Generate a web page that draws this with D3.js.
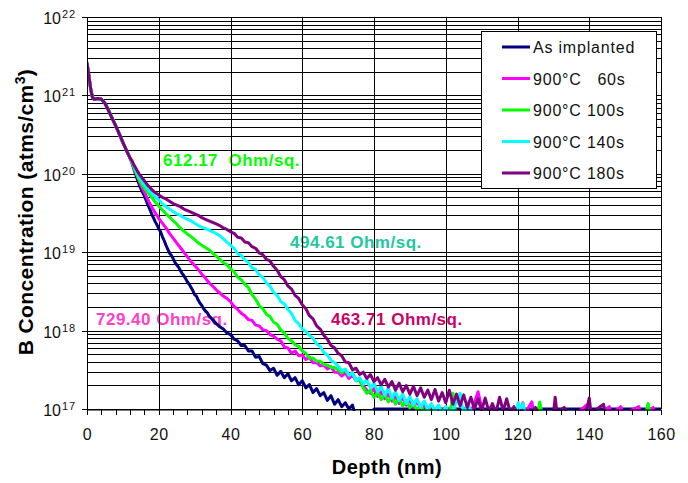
<!DOCTYPE html>
<html><head><meta charset="utf-8">
<script src="https://cdn.jsdelivr.net/npm/d3@7"></script>
<style>
html,body{margin:0;padding:0;background:#fff;}
svg{display:block;font-family:"Liberation Sans",Arial,sans-serif;}
</style></head><body>
<svg id="chart" width="688" height="483"></svg>
<script>
// ---------- DATA (depth in nm, value = log10 of B concentration in atms/cm3) ----------
const surfaceProfile = [[0,21.41],[0.5,21.26],[1,21.09],[1.5,20.98],[2,20.95],[3,20.96],[4,20.95],[5,20.90],[6,20.81],[7,20.71],[8,20.61],[9,20.51],[10,20.40],[11,20.30],[12,20.20]];

const asImplanted = [[12.5,20.14],[13,20.07],[13.5,20.00],[14,19.93],[14.5,19.87],[15,19.81],[15.5,19.76],[16,19.72],[16.5,19.66],[17,19.60],[17.5,19.55],[18,19.49],[18.5,19.44],[19,19.39],[19.5,19.35],[20,19.30],[20.5,19.26],[21,19.20],[21.5,19.15],[22,19.09],[22.5,19.04],[23,18.99],[23.5,18.96],[24,18.92],[24.5,18.87],[25,18.84],[25.5,18.81],[26,18.77],[26.5,18.73],[27,18.70],[27.5,18.66],[28,18.62],[28.5,18.59],[29,18.55],[29.5,18.51],[30,18.46],[30.5,18.44],[31,18.39],[31.5,18.35],[32,18.32],[32.5,18.28],[33,18.25],[33.5,18.23],[34,18.19],[35,18.14],[36,18.09],[37,18.05],[38,18.02],[39,17.97],[40,17.95],[41,17.89],[42,17.87],[43,17.81],[44,17.81],[45,17.74],[46,17.74],[47,17.66],[48,17.67],[49,17.58],[50,17.56],[51,17.49],[52,17.52],[53,17.43],[54,17.48],[55,17.40],[56,17.45],[57,17.36],[58,17.40],[59,17.31],[60,17.36],[61,17.27],[62,17.31],[63,17.21],[64,17.26],[65,17.17],[66,17.21],[67,17.11],[68,17.17],[69,17.06],[70,17.12],[71,17.03],[72,17.08],[73,17.00],[74,17.05],[74.5,16.97],[77,null],[80,17.0],[160,17.0]];

const anneal60 = [[12.5,20.15],[13,20.09],[13.5,20.03],[14,19.97],[14.5,19.91],[15,19.86],[15.5,19.81],[16,19.77],[16.5,19.72],[17,19.67],[17.5,19.62],[18,19.58],[18.5,19.54],[19,19.50],[19.5,19.47],[20,19.43],[21,19.37],[22,19.31],[23,19.24],[24,19.18],[25,19.12],[26,19.06],[27,19.00],[28,18.94],[29,18.88],[30,18.83],[31,18.78],[32,18.72],[33,18.67],[34,18.61],[35,18.57],[36,18.52],[37,18.48],[38,18.44],[39,18.41],[40,18.37],[41,18.31],[42,18.27],[43,18.22],[44,18.19],[45,18.14],[46,18.13],[47,18.07],[48,18.06],[49,18.01],[50,18.00],[51,17.95],[52,17.93],[53,17.89],[54,17.87],[55,17.79],[56,17.78],[57,17.71],[58,17.74],[59,17.68],[60,17.69],[61,17.63],[62,17.66],[63,17.59],[64,17.59],[65,17.55],[66,17.56],[67,17.51],[68,17.54],[69,17.47],[70,17.47],[71,17.42],[72,17.46],[73,17.39],[74,17.43],[75,17.36],[76,17.38],[77,17.30],[78,17.24],[79,17.20],[80,17.26],[81,17.16],[82,17.22],[83,17.13],[84,17.19],[85,17.10],[86,17.16],[87,17.07],[88,17.15],[89,17.05],[90,17.12],[91,17.02],[92,17.10],[93,17.00],[94,17.07],[95,16.97],[96,17.05],[97,16.96],[98,17.04],[99,16.95],[100,17.02],[101,16.95],[102,16.99],[103,16.93],[104,16.97],[105,16.92],[107,16.96],[108,17.08],[109,17.22],[110,17.02],[111,16.92],[114,16.95],[116,16.92],[121,16.93],[121.5,17.08],[122,16.94],[124,17.09],[124.5,16.93],[128,16.92],[132,16.95],[136,16.92],[139.2,17.05],[139.8,16.93],[143,16.92],[145.6,17.03],[146.2,16.93],[148.8,17.03],[149.4,16.93],[153.8,17.03],[154.4,16.93],[157.8,17.02],[158.4,16.93],[160,16.92]];

const anneal100 = [[12.5,20.15],[13,20.09],[13.5,20.03],[14,19.98],[14.5,19.93],[15,19.89],[15.5,19.85],[16,19.82],[16.5,19.79],[17,19.76],[17.5,19.73],[18,19.70],[19,19.64],[20,19.59],[21,19.54],[22,19.49],[23,19.45],[24,19.40],[25,19.36],[26,19.31],[27,19.27],[28,19.23],[29,19.20],[30,19.16],[31,19.12],[32,19.09],[33,19.06],[34,19.03],[35,18.99],[36,18.95],[37,18.91],[38,18.87],[39,18.84],[40,18.79],[41,18.75],[42,18.68],[43,18.65],[44,18.59],[45,18.55],[46,18.46],[47,18.40],[48,18.32],[49,18.28],[50,18.21],[51,18.18],[52,18.11],[53,18.08],[54,18.01],[55,17.97],[56,17.90],[57,17.87],[58,17.82],[59,17.80],[60,17.74],[61,17.71],[62,17.65],[63,17.65],[64,17.61],[65,17.61],[66,17.57],[67,17.56],[68,17.53],[69,17.53],[70,17.50],[71,17.46],[72,17.50],[73,17.43],[74,17.46],[75,17.38],[76,17.36],[77,17.27],[78,17.20],[79,17.24],[80,17.15],[81,17.21],[82,17.12],[83,17.19],[84,17.09],[85,17.16],[86,17.06],[87,17.14],[88,17.04],[89,17.11],[90,17.01],[91,17.08],[92,16.97],[93,17.05],[94,16.95],[95,17.02],[96,16.93],[97,16.99],[98,17.04],[99,16.94],[100,16.99],[101,16.93],[101.6,17.06],[102,17.20],[102.6,17.00],[103.2,16.92],[106,16.95],[110,16.92],[114,16.94],[118,16.92],[122,16.93],[125.6,16.94],[126.2,17.09],[126.8,16.94],[132,16.92],[138,16.93],[144,16.92],[150,16.93],[155.8,16.94],[156.4,17.07],[157,16.94],[160,16.92]];

const anneal140 = [[12.5,20.16],[13,20.11],[13.5,20.06],[14,20.01],[14.5,19.97],[15,19.93],[15.5,19.89],[16,19.86],[16.5,19.83],[17,19.80],[17.5,19.78],[18,19.75],[19,19.71],[20,19.67],[21,19.62],[22,19.58],[23,19.55],[24,19.52],[25,19.49],[26,19.47],[27,19.44],[28,19.42],[29,19.40],[30,19.37],[31,19.34],[32,19.32],[33,19.30],[34,19.28],[35,19.26],[36,19.24],[37,19.21],[38,19.17],[39,19.13],[40,19.09],[41,19.05],[42,18.98],[43,18.96],[44,18.90],[45,18.87],[46,18.80],[47,18.78],[48,18.71],[49,18.68],[50,18.61],[51,18.57],[52,18.49],[53,18.45],[54,18.37],[55,18.34],[56,18.27],[57,18.22],[58,18.13],[59,18.09],[60,18.02],[61,17.99],[62,17.94],[63,17.90],[64,17.83],[65,17.80],[66,17.72],[67,17.69],[68,17.62],[69,17.59],[70,17.55],[71,17.49],[72,17.51],[73,17.43],[74,17.46],[75,17.36],[76,17.40],[77,17.32],[78,17.37],[79,17.27],[80,17.33],[81,17.22],[82,17.29],[83,17.18],[84,17.26],[85,17.14],[86,17.22],[87,17.11],[88,17.19],[89,17.07],[90,17.16],[91,17.05],[92,17.13],[93,17.02],[94,17.10],[95,16.99],[96,17.07],[97,16.97],[98,17.05],[99,16.95],[100,17.03],[101,16.94],[102,17.00],[103,17.08],[104,17.20],[104.6,17.03],[105.2,16.93],[106,17.07],[107,16.98],[108,16.92],[112,16.93],[116,16.92],[119.6,16.94],[120.2,17.08],[120.8,17.00],[121.6,17.07],[122.2,16.93],[126,16.92],[130,16.94],[134,16.92],[138,16.93],[142,16.92],[150,16.93],[160,16.92]];

const anneal180 = [[12.5,20.17],[13,20.12],[13.5,20.08],[14,20.04],[14.5,20.00],[15,19.97],[15.5,19.94],[16,19.91],[16.5,19.88],[17,19.85],[17.5,19.83],[18,19.80],[19,19.76],[20,19.73],[21,19.70],[22,19.68],[23,19.65],[24,19.62],[25,19.60],[26,19.58],[27,19.55],[28,19.53],[29,19.51],[30,19.49],[31,19.47],[32,19.44],[33,19.42],[34,19.40],[35,19.38],[36,19.36],[37,19.34],[38,19.31],[39,19.29],[40,19.26],[41,19.24],[42,19.19],[43,19.18],[44,19.13],[45,19.12],[46,19.07],[47,19.05],[48,18.99],[49,18.97],[50,18.91],[51,18.89],[52,18.82],[53,18.77],[54,18.69],[55,18.65],[56,18.57],[57,18.53],[58,18.45],[59,18.41],[60,18.33],[61,18.28],[62,18.19],[63,18.15],[64,18.06],[65,18.02],[66,17.94],[67,17.89],[68,17.81],[69,17.78],[70,17.71],[71,17.68],[72,17.60],[73,17.59],[74,17.50],[75,17.52],[76,17.44],[77,17.47],[78,17.39],[79,17.44],[80,17.35],[81,17.40],[82,17.31],[83,17.38],[84,17.28],[85,17.35],[86,17.24],[87,17.33],[88,17.22],[89,17.30],[90,17.19],[91,17.29],[92,17.17],[93,17.27],[94,17.15],[95,17.24],[96,17.12],[97,17.25],[98,17.10],[99,17.21],[100,17.08],[101,17.24],[102,17.06],[103,17.19],[104,17.04],[105,17.18],[106,17.02],[107,17.15],[108,17.00],[109,17.13],[110,16.98],[111,17.14],[112,16.97],[113,17.07],[114,16.95],[115,17.15],[116,16.98],[117,17.13],[118,16.95],[119,17.03],[120,16.94],[121,16.98],[123,16.93],[125,17.02],[126,16.93],[128,16.96],[130,16.93],[130.5,17.15],[131,16.95],[133,17.02],[134,16.93],[137,16.96],[139,16.94],[140,17.14],[140.5,16.94],[143,17.03],[144,17.06],[144.5,16.93],[148,16.95],[152,16.93],[156,16.94],[160,16.93]];

const seriesNames = ["As implanted", "900\u00B0C   60s", "900\u00B0C 100s", "900\u00B0C 140s", "900\u00B0C 180s"];
const seriesColors = ["#000080", "#ff00ff", "#00ff00", "#00ffff", "#800080"];

const xTickLabels = [0, 20, 40, 60, 80, 100, 120, 140, 160];
const yDecades = [17, 18, 19, 20, 21, 22];

const sheetLabels = ["612.17  Ohm/sq.", "494.61 Ohm/sq.", "463.71 Ohm/sq.", "729.40 Ohm/sq."];
const sheetLabelColors = ["#00ff00", "#1ec8a0", "#cc0066", "#ff40c8"];
const sheetLabelAnchors = [[21.2, 20.10], [56.6, 19.05], [68.0, 18.07], [2.5, 18.07]]; // [depth, log10 conc]

// ---------- CHART ----------
const svg = d3.select("#chart");
const x = d3.scaleLinear().domain([0, 160]).range([87, 661]);
const y = d3.scaleLog().domain([1e17, 1e22]).range([409, 17]);
const yl = v => y(Math.pow(10, v));

// annotations (under gridlines, as in the reference)
svg.append("g").selectAll("text").data(sheetLabels).join("text")
  .attr("x", (d, i) => x(sheetLabelAnchors[i][0]))
  .attr("y", (d, i) => yl(sheetLabelAnchors[i][1]))
  .attr("fill", (d, i) => sheetLabelColors[i])
  .attr("font-size", 17).attr("font-weight", "bold")
  .attr("letter-spacing", "0.5px")
  .style("white-space", "pre")
  .text(d => d);

// gridlines
const hGrid = [];
yDecades.forEach(e => {
  if (e < 22) { for (let k = 1; k <= 9; k++) hGrid.push(k * Math.pow(10, e)); }
  else hGrid.push(Math.pow(10, e));
});
const grid = svg.append("g").attr("stroke", "#000").attr("stroke-width", 1).attr("shape-rendering", "crispEdges");
grid.selectAll("line.h").data(hGrid).join("line").attr("class", "h")
  .attr("x1", x(0)).attr("x2", x(160))
  .attr("y1", d => Math.round(y(d)) + 0.5).attr("y2", d => Math.round(y(d)) + 0.5);
grid.selectAll("line.v").data(xTickLabels).join("line").attr("class", "v")
  .attr("x1", d => Math.round(x(d)) + 0.5).attr("x2", d => Math.round(x(d)) + 0.5)
  .attr("y1", y(1e22)).attr("y2", y(1e17));

// curves
svg.append("clipPath").attr("id", "plotclip").append("rect")
  .attr("x", x(0)).attr("y", y(1e22)).attr("width", x(160) - x(0)).attr("height", y(1e17) - y(1e22) + 2);

const seriesData = [asImplanted, anneal60, anneal100, anneal140, anneal180].map(s => surfaceProfile.concat(s));
const line = d3.line().defined(d => d[1] !== null).x(d => x(d[0])).y(d => yl(d[1]));
svg.append("g").attr("clip-path", "url(#plotclip)")
  .selectAll("path").data(seriesData).join("path")
  .attr("d", line).attr("fill", "none")
  .attr("stroke", (d, i) => seriesColors[i]).attr("stroke-width", 3)
  .attr("stroke-linejoin", "round").attr("stroke-linecap", "round");

// x axis
const xAxis = d3.axisBottom(x).tickValues(d3.range(0, 161, 4)).tickSize(5).tickPadding(14)
  .tickFormat(d => xTickLabels.includes(d) ? d : "");
const gx = svg.append("g").attr("transform", `translate(0,${Math.round(y(1e17)) + 0.5})`).call(xAxis);
gx.select(".domain").attr("stroke", "#000");
gx.selectAll(".tick line").attr("stroke", "#000").attr("shape-rendering", "crispEdges");
gx.selectAll(".tick text").attr("font-size", 16).attr("fill", "#111")
  .attr("font-family", "'Liberation Sans',Arial,sans-serif").attr("letter-spacing", "0.5px");

// y axis line + ticks + labels
svg.append("line").attr("x1", x(0) + 0.5).attr("x2", x(0) + 0.5).attr("y1", y(1e22)).attr("y2", y(1e17))
  .attr("stroke", "#000").attr("shape-rendering", "crispEdges");
const gy = svg.append("g");
gy.selectAll("line").data(yDecades).join("line")
  .attr("x1", x(0) - 5).attr("x2", x(0) + 3)
  .attr("y1", d => Math.round(yl(d)) + 0.5).attr("y2", d => Math.round(yl(d)) + 0.5)
  .attr("stroke", "#000").attr("stroke-width", 1.5).attr("shape-rendering", "crispEdges");
gy.selectAll("text.base").data(yDecades).join("text").attr("class", "base")
  .attr("x", 61).attr("y", d => yl(d) + 7).attr("text-anchor", "end")
  .attr("font-size", 16).attr("fill", "#111").text("10");
gy.selectAll("text.exp").data(yDecades).join("text").attr("class", "exp")
  .attr("x", 62).attr("y", d => yl(d) + 1)
  .attr("font-size", 11).attr("letter-spacing", "1px").attr("fill", "#111").text(d => d);

// axis titles
svg.append("text").attr("x", 387).attr("y", 474).attr("text-anchor", "middle")
  .attr("font-size", 20).attr("font-weight", "bold").attr("letter-spacing", "0.5px").text("Depth (nm)");
const yt = svg.append("text").attr("transform", "translate(33,212) rotate(-90)").attr("text-anchor", "middle")
  .attr("font-size", 21).attr("font-weight", "bold").attr("letter-spacing", "0.4px");
yt.append("tspan").text("B Concentration (atms/cm");
yt.append("tspan").attr("font-size", 14).attr("dy", -8).text("3");
yt.append("tspan").attr("dy", 8).text(")");

// legend
const lg = svg.append("g");
lg.append("rect").attr("x", 481.5).attr("y", 31.5).attr("width", 175).attr("height", 157)
  .attr("fill", "#fff").attr("stroke", "#000");
const rows = lg.selectAll("g").data(seriesNames).join("g")
  .attr("transform", (d, i) => `translate(0,${47 + i * 31.5})`);
rows.append("line").attr("x1", 502).attr("x2", 530).attr("y1", 0).attr("y2", 0)
  .attr("stroke", (d, i) => seriesColors[i]).attr("stroke-width", 3);
rows.append("text").attr("x", 533).attr("y", 6).attr("font-size", 16).attr("fill", "#111")
  .attr("letter-spacing", "0.8px").style("white-space", "pre").text(d => d);
</script>
</body></html>
